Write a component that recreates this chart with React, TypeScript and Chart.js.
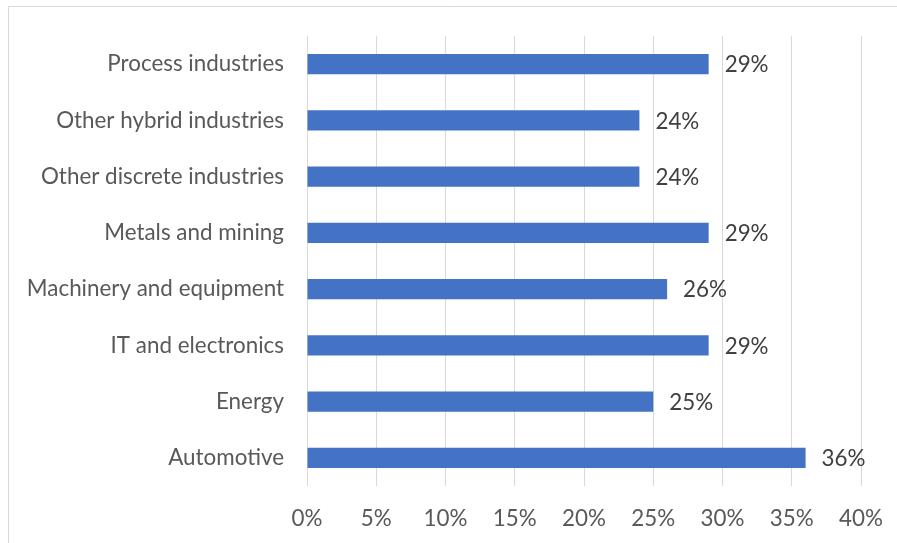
import React, { useEffect, useRef } from "react";
import { Chart, registerables } from "chart.js";

Chart.register(...registerables);

const categories = [
  "Process industries",
  "Other hybrid industries",
  "Other discrete industries",
  "Metals and mining",
  "Machinery and equipment",
  "IT and electronics",
  "Energy",
  "Automotive",
];
const values = [29, 24, 24, 29, 26, 29, 25, 36];
const xTicks = [0, 5, 10, 15, 20, 25, 30, 35, 40];

const FONT = "Lato, 'Open Sans', sans-serif";
const FONT_SIZE = 22.4;

const frameAndLabels = {
  id: "frameAndLabels",
  afterDatasetsDraw(chart: any) {
    const ctx = chart.ctx;
    const meta = chart.getDatasetMeta(0);
    ctx.save();
    ctx.font = `${FONT_SIZE}px ${FONT}`;
    ctx.fillStyle = "#404040";
    ctx.textAlign = "left";
    ctx.textBaseline = "middle";
    meta.data.forEach((bar: any, i: number) => {
      ctx.fillText(`${values[i]}%`, bar.x + 16, bar.y + 1);
    });
    ctx.restore();
  },
  afterDraw(chart: any) {
    const ctx = chart.ctx;
    ctx.save();
    ctx.strokeStyle = "#D9D9D9";
    ctx.lineWidth = 1;
    ctx.beginPath();
    ctx.moveTo(8.5, 1000);
    ctx.lineTo(8.5, 6.5);
    ctx.lineTo(2000, 6.5);
    ctx.stroke();
    ctx.restore();
  },
};

export default function App() {
  const ref = useRef<HTMLCanvasElement>(null);
  useEffect(() => {
    if (!ref.current) return;
    const chart = new Chart(ref.current, {
      type: "bar",
      data: {
        labels: categories,
        datasets: [
          {
            data: values,
            backgroundColor: "#4472C4",
            categoryPercentage: 1,
            barPercentage: 0.356,
          },
        ],
      },
      options: {
        indexAxis: "y",
        responsive: false,
        animation: false,
        layout: { padding: { left: 0, top: 36, right: 36, bottom: 0 } },
        plugins: { legend: { display: false }, tooltip: { enabled: false } },
        scales: {
          x: {
            min: 0,
            max: 40,
            afterBuildTicks(scale: any) {
              scale.ticks = xTicks.map((v) => ({ value: v }));
            },
            afterFit(scale: any) {
              scale.height = 57;
              scale.paddingLeft = 0;
              scale.paddingRight = 0;
            },
            grid: { color: "#D9D9D9", drawTicks: false, lineWidth: 1 },
            border: { display: false },
            ticks: {
              padding: 19,
              color: "#595959",
              font: { family: FONT, size: FONT_SIZE },
              callback: (v: any) => `${v}%`,
              maxRotation: 0,
            },
          },
          y: {
            afterFit(scale: any) {
              scale.width = 307;
              scale.paddingTop = 0;
              scale.paddingBottom = 0;
            },
            grid: { display: false, drawTicks: false },
            border: { display: false },
            ticks: {
              padding: 23,
              color: "#595959",
              font: { family: FONT, size: FONT_SIZE },
            },
          },
        },
      },
      plugins: [frameAndLabels],
    });
    return () => chart.destroy();
  }, []);
  return (
    <canvas
      ref={ref}
      width={897}
      height={543}
      style={{ position: "absolute", left: 0, top: 0, display: "block" }}
    />
  );
}
